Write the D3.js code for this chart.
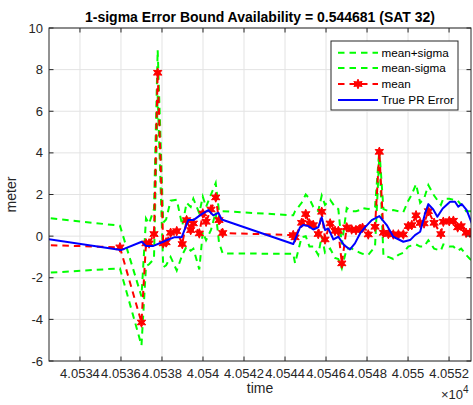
<!DOCTYPE html>
<html><head><meta charset="utf-8">
<script src="https://cdn.jsdelivr.net/npm/d3@7"></script>
<style>
html,body{margin:0;padding:0;background:#fff;}
svg{display:block;font-family:"Liberation Sans",Arial,Helvetica,sans-serif;}
</style></head>
<body>
<svg id="chart" width="473" height="405"></svg>
<script>
// ---- data ----
const meanTime = [40531.46,40535.95,40537.00,40537.22,40537.37,40537.61,40537.79,40538.06,40538.20,40538.42,40538.72,40538.99,40539.20,40539.40,40539.53,40539.82,40539.99,40540.15,40540.39,40540.62,40540.78,40540.96,
  40544.40,40544.49,40544.81,40545.01,40545.19,40545.38,40545.62,40545.79,40545.95,40546.20,40546.44,40546.60,40546.77,40547.01,40547.25,40547.46,40547.66,40547.78,40548.06,40548.39,40548.60,40548.80,40549.04,40549.28,40549.53,40549.77,40550.01,40550.18,40550.39,40550.59,40550.78,40550.99,40551.27,40551.60,40551.72,40552.01,40552.21,40552.42,40552.59,40552.83,40553.02,40553.51];
const meanVal = [-0.40,-0.54,-4.15,-0.35,-0.35,0.10,7.85,-0.35,-0.30,0.16,0.24,-0.38,0.77,0.29,0.61,0.13,1.09,0.69,1.28,1.86,0.77,0.15,
  0.05,-0.06,0.64,1.06,0.61,0.53,0.10,1.17,-0.16,0.61,0.25,0.25,-1.31,0.42,0.32,0.29,0.35,0.40,0.08,0.45,4.05,0.16,0.10,0.08,0.08,0.08,0.48,0.53,1.00,0.63,0.61,1.20,0.64,0.10,0.69,0.72,0.74,0.42,0.48,0.16,0.16,0.20];
const upperVal = [0.98,0.50,-2.90,0.85,0.60,1.30,8.94,0.65,0.80,1.70,1.75,0.50,1.60,1.40,1.80,1.10,1.90,1.40,2.00,2.55,1.20,1.20,
  1.00,1.20,1.60,2.00,1.80,1.40,1.20,1.95,1.50,1.75,1.40,1.30,-0.40,1.35,1.20,1.20,1.25,1.35,1.30,1.40,4.15,1.30,1.20,1.25,1.20,1.15,1.70,2.00,2.50,1.60,1.80,2.45,1.95,1.50,1.80,1.80,1.75,1.70,1.50,1.20,1.20,1.20];
const lowerVal = [-1.82,-1.55,-5.25,-1.45,-1.35,-1.10,6.75,-1.50,-1.40,-1.00,-1.65,-0.90,-0.50,-0.70,-0.60,-1.60,0.20,-0.20,0.30,1.15,-0.30,-0.83,
  -0.85,-1.30,-0.05,0.00,-0.50,-0.50,-0.90,0.00,-0.80,-0.60,-1.05,-1.10,-1.55,-0.60,-0.60,-0.70,-0.80,-0.85,-0.90,-0.50,3.90,-0.95,-1.00,-1.10,-0.90,-0.80,-0.50,-0.45,-0.40,-0.50,-0.50,-0.20,-0.60,-0.70,-0.40,-0.50,-0.50,-0.70,-0.60,-0.90,-1.10,-1.40];
const trueTime = [40531.46,40536.00,40537.01,40537.22,40537.58,40538.06,40538.31,40538.59,40538.96,40539.28,40539.53,40539.94,40540.26,40540.50,40540.75,40540.91,
  40544.40,40544.73,40544.89,40545.14,40545.38,40545.62,40545.79,40545.95,40546.11,40546.36,40546.60,40546.88,40547.17,40547.41,40547.66,40547.90,40548.23,40548.60,40548.96,40549.28,40549.77,40550.10,40550.34,40550.59,40550.83,40550.99,40551.23,40551.43,40551.69,40552.05,40552.29,40552.45,40552.62,40552.86,40553.11,40553.51];
const trueVal = [0.00,-0.67,-0.27,-0.47,-0.47,-0.27,-0.16,-0.06,-0.06,0.77,0.77,1.06,1.25,1.00,1.12,0.80,
  -0.38,0.42,0.53,0.48,0.32,0.42,0.90,0.29,0.37,-0.16,-0.03,-0.43,-0.64,-0.35,0.13,0.42,0.77,0.96,0.53,-0.03,-0.27,-0.19,0.05,0.21,1.09,1.54,1.28,0.93,1.33,1.65,1.65,1.41,1.54,1.25,0.61,0.20];
const xTicks = [40534,40536,40538,40540,40542,40544,40546,40548,40550,40552];
const yTicks = [-6,-4,-2,0,2,4,6,8,10];
const legendLabels = ["mean+sigma","mean-sigma","mean","True PR Error"];
const titleText = "1-sigma Error Bound Availability = 0.544681 (SAT 32)";
const xDomain = [40532.49, 40553.07];
const yDomain = [-6, 10];

// ---- layout ----
const L = 49, R = 471, T = 28, B = 361;
const axisColor = "#262626";
const svg = d3.select("#chart");
const x = d3.scaleLinear().domain(xDomain).range([L, R]);
const y = d3.scaleLinear().domain(yDomain).range([B, T]);

// grid
const grid = svg.append("g");
grid.selectAll(".gx").data(xTicks).enter().append("line")
  .attr("x1", d => x(d)).attr("x2", d => x(d)).attr("y1", T).attr("y2", B)
  .attr("stroke", "#e3e3e3").attr("stroke-width", 1);
grid.selectAll(".gy").data(yTicks).enter().append("line")
  .attr("y1", d => y(d)).attr("y2", d => y(d)).attr("x1", L).attr("x2", R)
  .attr("stroke", "#e3e3e3").attr("stroke-width", 1);

// clip
svg.append("clipPath").attr("id", "clip").append("rect")
  .attr("x", L).attr("y", T).attr("width", R - L).attr("height", B - T);
const plot = svg.append("g").attr("clip-path", "url(#clip)");

const lineGen = d3.line().x(d => x(d[0])).y(d => y(d[1]));
const zip = (a, b) => a.map((v, i) => [v, b[i]]);

const dash = "6.5,5";
plot.append("path").datum(zip(meanTime, upperVal)).attr("d", lineGen)
  .attr("fill", "none").attr("stroke", "#00ff00").attr("stroke-width", 2).attr("stroke-dasharray", dash);
plot.append("path").datum(zip(meanTime, lowerVal)).attr("d", lineGen)
  .attr("fill", "none").attr("stroke", "#00ff00").attr("stroke-width", 2).attr("stroke-dasharray", dash);
plot.append("path").datum(zip(meanTime, meanVal)).attr("d", lineGen)
  .attr("fill", "none").attr("stroke", "#ff0000").attr("stroke-width", 2).attr("stroke-dasharray", dash);

// asterisk marker
function starPath(r) {
  let p = "";
  for (let k = 0; k < 3; k++) {
    const a = Math.PI / 2 + k * Math.PI / 3;
    const dx = r * Math.cos(a), dy = r * Math.sin(a);
    p += `M${-dx},${-dy}L${dx},${dy}`;
  }
  return p;
}
const hexStar = (() => {
  const pts = [];
  for (let k = 0; k < 12; k++) {
    const a = -Math.PI / 2 + k * Math.PI / 6;
    const r = k % 2 === 0 ? 4.8 : 2.4;
    pts.push([r * Math.cos(a), r * Math.sin(a)]);
  }
  return "M" + pts.map(p => p.join(",")).join("L") + "Z";
})();
plot.selectAll(".mk").data(zip(meanTime, meanVal)).enter().append("path")
  .attr("transform", d => `translate(${x(d[0])},${y(d[1])})`)
  .attr("d", hexStar).attr("fill", "#ff0000").attr("stroke", "#ff0000").attr("stroke-width", 1);

plot.append("path").datum(zip(trueTime, trueVal)).attr("d", lineGen)
  .attr("fill", "none").attr("stroke", "#0000ff").attr("stroke-width", 2).attr("stroke-linejoin", "round");

// axes box and ticks
const ax = svg.append("g");
ax.append("rect").attr("x", L).attr("y", T).attr("width", R - L).attr("height", B - T)
  .attr("fill", "none").attr("stroke", axisColor).attr("stroke-width", 1);
const tl = 4.5;
xTicks.forEach(t => {
  ax.append("line").attr("x1", x(t)).attr("x2", x(t)).attr("y1", B).attr("y2", B - tl).attr("stroke", axisColor);
  ax.append("line").attr("x1", x(t)).attr("x2", x(t)).attr("y1", T).attr("y2", T + tl).attr("stroke", axisColor);
});
yTicks.forEach(t => {
  ax.append("line").attr("y1", y(t)).attr("y2", y(t)).attr("x1", L).attr("x2", L + tl).attr("stroke", axisColor);
  ax.append("line").attr("y1", y(t)).attr("y2", y(t)).attr("x1", R).attr("x2", R - tl).attr("stroke", axisColor);
});
const fmtX = v => String(+(v / 1e4).toFixed(6));
ax.selectAll(".xl").data(xTicks).enter().append("text")
  .attr("x", d => x(d)).attr("y", B + 17).attr("text-anchor", "middle")
  .attr("font-size", 13).attr("fill", axisColor).text(fmtX);
ax.selectAll(".yl").data(yTicks).enter().append("text")
  .attr("x", L - 6).attr("y", d => y(d) + 4.5).attr("text-anchor", "end")
  .attr("font-size", 13).attr("fill", axisColor).text(d => d);

// labels
svg.append("text").attr("x", (L + R) / 2).attr("y", 393).attr("text-anchor", "middle")
  .attr("font-size", 14).attr("fill", axisColor).text("time");
svg.append("text").attr("x", 16).attr("y", (T + B) / 2).attr("text-anchor", "middle")
  .attr("transform", `rotate(-90,16,${(T + B) / 2})`)
  .attr("font-size", 14).attr("fill", axisColor).text("meter");
const ex = svg.append("text").attr("x", 441).attr("y", 399).attr("font-size", 13).attr("fill", axisColor);
ex.append("tspan").text("×10");
ex.append("tspan").attr("dy", -6).attr("font-size", 10).text("4");
svg.append("text").attr("x", (L + R) / 2).attr("y", 22).attr("text-anchor", "middle")
  .attr("font-size", 14).attr("font-weight", "bold").attr("fill", "#000").text(titleText);

// legend
const lg = svg.append("g");
lg.append("rect").attr("x", 331).attr("y", 41).attr("width", 127).attr("height", 69)
  .attr("fill", "#fff").attr("stroke", axisColor).attr("stroke-width", 1);
const rowsY = [52.7, 68, 84, 100];
const styles = [
  {c: "#00ff00", dash: dash, mk: false},
  {c: "#00ff00", dash: dash, mk: false},
  {c: "#ff0000", dash: dash, mk: true},
  {c: "#0000ff", dash: null, mk: false}
];
legendLabels.forEach((lab, i) => {
  const s = styles[i];
  const ln = lg.append("line").attr("x1", 338).attr("x2", 378).attr("y1", rowsY[i]).attr("y2", rowsY[i])
    .attr("stroke", s.c).attr("stroke-width", 2);
  if (s.dash) ln.attr("stroke-dasharray", dash);
  if (s.mk) lg.append("path").attr("transform", `translate(358,${rowsY[i]})`).attr("d", hexStar)
    .attr("fill", s.c).attr("stroke", s.c).attr("stroke-width", 1);
  lg.append("text").attr("x", 381.5).attr("y", rowsY[i] + 4).attr("font-size", 11.7)
    .attr("fill", "#000").text(lab);
});
</script>
</body></html>
